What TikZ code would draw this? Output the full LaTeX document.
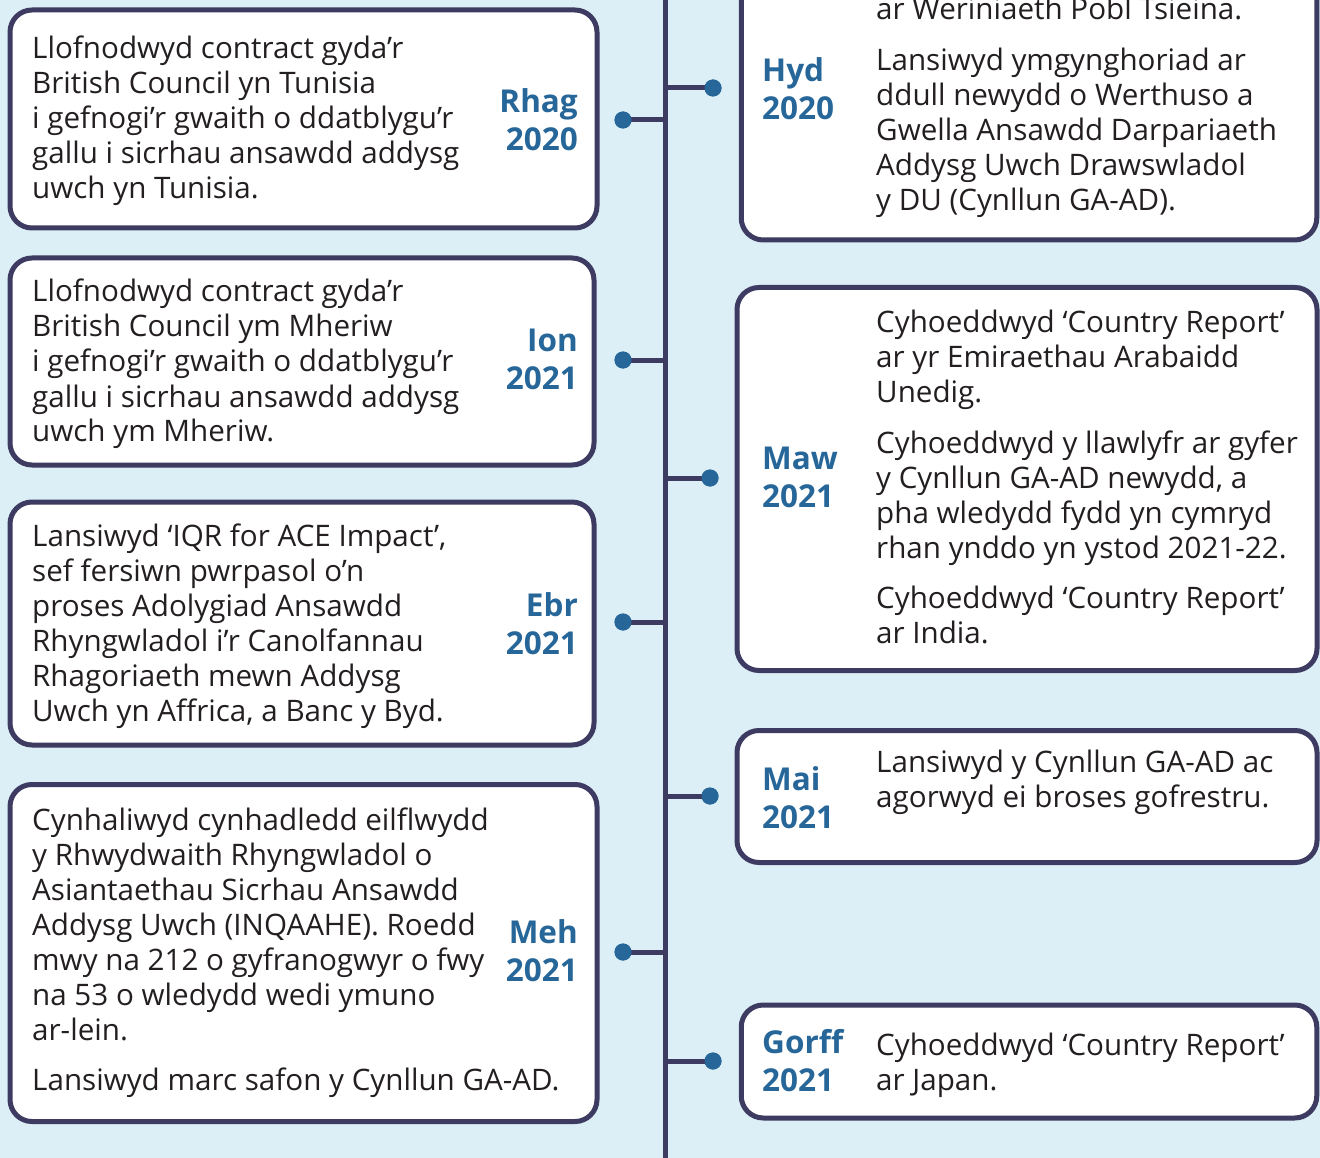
\documentclass[tikz,border=0pt]{standalone}
\usepackage{fontspec}
\setmainfont{Open Sans}
\definecolor{bgblue}{RGB}{220,239,247}
\definecolor{navy}{RGB}{61,59,98}
\definecolor{dateblue}{RGB}{38,102,152}
\definecolor{bodytext}{RGB}{35,31,32}
\newcommand\LeftLines[1]{\vtop{\halign{##\hfil\cr#1\crcr}}}
\newcommand\RightLines[1]{\vtop{\halign{\hfil##\cr#1\crcr}}}
\newcommand\ParGap{\noalign{\vskip 15.5pt}}
\tikzset{
  box/.style={draw=navy, fill=white, line width=5pt, rounded corners=22pt, rectangle, inner sep=0pt},
  bodytxt/.style={inner sep=0pt, anchor=base west, text=bodytext, font=\fontsize{29.6}{35}\selectfont},
  datel/.style={inner sep=0pt, anchor=base east, text=dateblue, font=\fontsize{31.5}{38}\selectfont\bfseries},
  dater/.style={inner sep=0pt, anchor=base west, text=dateblue, font=\fontsize{31.5}{38}\selectfont\bfseries},
  dot/.style={circle, fill=dateblue, inner sep=0pt, minimum size=17pt},
  conn/.style={draw=navy, line width=5pt},
}
\begin{document}
\begin{tikzpicture}[x=1pt,y=-1pt]
\useasboundingbox (0,0) rectangle (1320,1158);
\clip (0,0) rectangle (1320,1158);
\fill[bgblue] (0,0) rectangle (1320,1158);

% timeline
\coordinate (ttop) at (665,-10);
\coordinate (tbot) at (665,1170);
\draw[conn] (ttop) -- (tbot);

% boxes
\node[box, minimum width=587pt, minimum height=218pt] (L1) at (303.5,119) {};
\node[box, minimum width=584pt, minimum height=207pt] (L2) at (302,361.5) {};
\node[box, minimum width=584pt, minimum height=243pt] (L3) at (302,623.5) {};
\node[box, minimum width=587pt, minimum height=337pt] (L4) at (303.5,953) {};
\node[box, minimum width=575.5pt, minimum height=340pt] (R1) at (1029,70) {};
\node[box, minimum width=580pt, minimum height=383pt] (R2) at (1027,479) {};
\node[box, minimum width=580pt, minimum height=132pt] (R3) at (1027,796.5) {};
\node[box, minimum width=575.5pt, minimum height=113pt] (R4) at (1029,1061.5) {};

% connectors and dots
\coordinate (tL1) at (665,120);
\coordinate (tL2) at (665,360);
\coordinate (tL3) at (665,622);
\coordinate (tL4) at (665,952);
\coordinate (tR1) at (665,88);
\coordinate (tR2) at (665,478);
\coordinate (tR3) at (665,796);
\coordinate (tR4) at (665,1061);
\node[dot] (dL1) at (623,120) {};
\node[dot] (dL2) at (623,360) {};
\node[dot] (dL3) at (623,622) {};
\node[dot] (dL4) at (623,952) {};
\node[dot] (dR1) at (713,88) {};
\node[dot] (dR2) at (710,478) {};
\node[dot] (dR3) at (710,796) {};
\node[dot] (dR4) at (713,1061) {};
\foreach \a in {L1,L2,L3,L4,R1,R2,R3,R4}{\draw[conn] (d\a.center) -- (t\a);}
\foreach \a in {L1,L2,L3,L4,R1,R2,R3,R4}{\node[dot] at (d\a) {};}

% left texts
\node[bodytxt] (bL1) at (32,59) {\LeftLines{Llofnodwyd contract gyda’r\cr British Council yn Tunisia\cr i gefnogi’r gwaith o ddatblygu’r\cr gallu i sicrhau ansawdd addysg\cr uwch yn Tunisia.}};
\node[datel] (xL1) at (578,113) {\RightLines{Rhag\cr 2020}};

\node[bodytxt] (bL2) at (32,302) {\LeftLines{Llofnodwyd contract gyda’r\cr British Council ym Mheriw\cr i gefnogi’r gwaith o ddatblygu’r\cr gallu i sicrhau ansawdd addysg\cr uwch ym Mheriw.}};
\node[datel] (xL2) at (578,352) {\RightLines{Ion\cr 2021}};

\node[bodytxt] (bL3) at (32,546) {\LeftLines{Lansiwyd ‘IQR for ACE Impact’,\cr sef fersiwn pwrpasol o’n\cr proses Adolygiad Ansawdd\cr Rhyngwladol i’r Canolfannau\cr Rhagoriaeth mewn Addysg\cr Uwch yn Affrica, a Banc y Byd.}};
\node[datel] (xL3) at (578,616) {\RightLines{Ebr\cr 2021}};

\node[bodytxt] (bL4) at (32,830) {\LeftLines{Cynhaliwyd cynhadledd eilflwydd\cr y Rhwydwaith Rhyngwladol o\cr Asiantaethau Sicrhau Ansawdd\cr Addysg Uwch (INQAAHE). Roedd\cr mwy na 212 o gyfranogwyr o fwy\cr na 53 o wledydd wedi ymuno\cr ar-lein.\cr\ParGap Lansiwyd marc safon y Cynllun GA-AD.}};
\node[datel] (xL4) at (578,943) {\RightLines{Meh\cr 2021}};

% right texts
\node[bodytxt] (bR1) at (876,20) {\LeftLines{ar Weriniaeth Pobl Tsieina.\cr\ParGap Lansiwyd ymgynghoriad ar\cr ddull newydd o Werthuso a\cr Gwella Ansawdd Darpariaeth\cr Addysg Uwch Drawswladol\cr y DU (Cynllun GA-AD).}};
\node[dater] (xR1) at (762,82) {\LeftLines{Hyd\cr 2020}};

\node[bodytxt] (bR2) at (876,333) {\LeftLines{Cyhoeddwyd ‘Country Report’\cr ar yr Emiraethau Arabaidd\cr Unedig.\cr\ParGap Cyhoeddwyd y llawlyfr ar gyfer\cr y Cynllun GA-AD newydd, a\cr pha wledydd fydd yn cymryd\cr rhan ynddo yn ystod 2021-22.\cr\ParGap Cyhoeddwyd ‘Country Report’\cr ar India.}};
\node[dater] (xR2) at (762,469) {\LeftLines{Maw\cr 2021}};

\node[bodytxt] (bR3) at (876,772) {\LeftLines{Lansiwyd y Cynllun GA-AD ac\cr agorwyd ei broses gofrestru.}};
\node[dater] (xR3) at (762,790) {\LeftLines{Mai\cr 2021}};

\node[bodytxt] (bR4) at (876,1055) {\LeftLines{Cyhoeddwyd ‘Country Report’\cr ar Japan.}};
\node[dater] (xR4) at (762,1053) {\LeftLines{Gorff\cr 2021}};
\end{tikzpicture}
\end{document}
